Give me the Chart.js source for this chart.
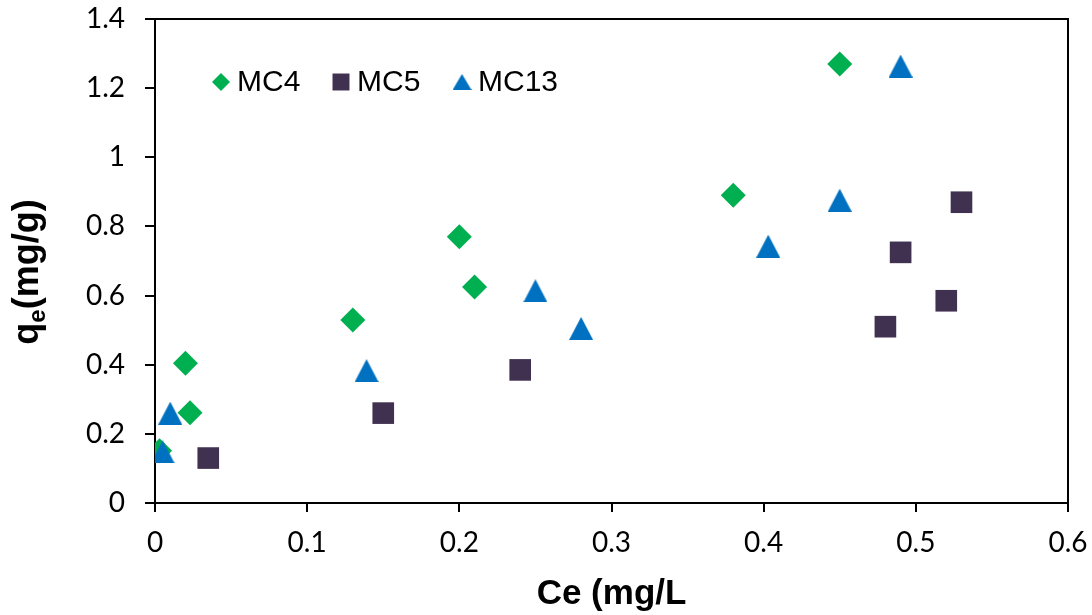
<!DOCTYPE html>
<html>
<head>
<meta charset="utf-8">
<title>qe vs Ce</title>
<script src="https://cdn.jsdelivr.net/npm/chart.js@4/dist/chart.umd.min.js"></script>
<style>
  html, body { margin: 0; padding: 0; background: #fff; }
  #isoChart { display: block; }
</style>
</head>
<body>
<canvas id="isoChart" width="1092" height="615"></canvas>
<script>
// Equilibrium concentration (Ce) and uptake (qe) for each adsorbent
const mc4Ce = [0.003, 0.020, 0.023, 0.130, 0.200, 0.210, 0.380, 0.450];
const mc4Qe = [0.151, 0.404, 0.261, 0.529, 0.770, 0.625, 0.890, 1.270];

const mc5Ce = [0.035, 0.150, 0.240, 0.480, 0.490, 0.520, 0.530];
const mc5Qe = [0.130, 0.260, 0.385, 0.510, 0.725, 0.585, 0.870];

const mc13Ce = [0.005, 0.010, 0.139, 0.250, 0.280, 0.403, 0.450, 0.490];
const mc13Qe = [0.148, 0.260, 0.383, 0.614, 0.505, 0.743, 0.876, 1.264];

const seriesNames = ["MC4", "MC5", "MC13"];
const xTicks = ["0", "0.1", "0.2", "0.3", "0.4", "0.5", "0.6"];
const yTicks = ["0", "0.2", "0.4", "0.6", "0.8", "1", "1.2", "1.4"];

const GREEN = "#00b050";
const PLUM = "#403151";
const BLUE = "#0070c0";

// triangle marker centred on its bounding box
function makeTriangle(w, h, color) {
  const c = document.createElement("canvas");
  c.width = w;
  c.height = h;
  const g = c.getContext("2d");
  g.fillStyle = color;
  g.beginPath();
  g.moveTo(w / 2, 0);
  g.lineTo(w, h);
  g.lineTo(0, h);
  g.closePath();
  g.fill();
  return c;
}
const triBig = makeTriangle(24, 23, BLUE);
const triSmall = makeTriangle(19, 16, BLUE);

const toPoints = (xs, ys) => xs.map((x, i) => ({ x: x, y: ys[i] }));

// black box round the plot area
const framePlugin = {
  id: "frame",
  beforeDatasetsDraw(chart) {
    const { ctx, chartArea: a } = chart;
    ctx.save();
    ctx.strokeStyle = "#000";
    ctx.lineWidth = 2;
    ctx.strokeRect(a.left, a.top, a.right - a.left, a.bottom - a.top);
    ctx.restore();
  }
};

// legend row inside the plot, top left
const innerLegend = {
  id: "innerLegend",
  afterDatasetsDraw(chart) {
    const { ctx, chartArea: a } = chart;
    const y = a.top + 63;
    const items = [
      { x: a.left + 66, style: "rectRot", radius: 9, color: GREEN },
      { x: a.left + 186, style: "rect", radius: 12, color: PLUM },
      { x: a.left + 307, style: triSmall, radius: 9, color: BLUE }
    ];
    ctx.save();
    ctx.font = "30px 'Liberation Sans', Arial, sans-serif";
    ctx.textBaseline = "middle";
    ctx.textAlign = "left";
    items.forEach((it, i) => {
      ctx.fillStyle = it.color;
      Chart.helpers.drawPoint(ctx, { pointStyle: it.style, radius: it.radius, rotation: 0, borderWidth: 0 }, it.x, y);
      ctx.fillStyle = "#000";
      ctx.fillText(seriesNames[i], it.x + 16, y + 1);
    });
    ctx.restore();
  }
};

// rotated y title with subscript e
const yTitlePlugin = {
  id: "yTitle",
  afterDraw(chart) {
    const { ctx, chartArea: a } = chart;
    const big = "bold 36px 'Liberation Sans', Arial, sans-serif";
    const small = "bold 24px 'Liberation Sans', Arial, sans-serif";
    ctx.save();
    ctx.fillStyle = "#000";
    ctx.textBaseline = "alphabetic";
    ctx.textAlign = "left";
    ctx.font = big;
    const wq = ctx.measureText("q").width;
    const wRest = ctx.measureText("(mg/g)").width;
    ctx.font = small;
    const we = ctx.measureText("e").width;
    const total = wq + we + wRest;
    const cy = (a.top + a.bottom) / 2 + 11;
    ctx.translate(38, cy);
    ctx.rotate(-Math.PI / 2);
    let x = -total / 2;
    ctx.font = big;
    ctx.fillText("q", x, 0);
    x += wq;
    ctx.font = small;
    ctx.fillText("e", x, 7);
    x += we;
    ctx.font = big;
    ctx.fillText("(mg/g)", x, 0);
    ctx.restore();
  }
};

const tickFont = { family: "Lato, 'Open Sans', sans-serif", size: 28 };

new Chart(document.getElementById("isoChart"), {
  type: "scatter",
  data: {
    datasets: [
      {
        label: seriesNames[0],
        data: toPoints(mc4Ce, mc4Qe),
        pointStyle: "rectRot",
        pointRadius: 12.5,
        backgroundColor: GREEN,
        borderColor: GREEN,
        borderWidth: 0,
        order: 2
      },
      {
        label: seriesNames[1],
        data: toPoints(mc5Ce, mc5Qe),
        pointStyle: "rect",
        pointRadius: 15.3,
        backgroundColor: PLUM,
        borderColor: PLUM,
        borderWidth: 0,
        order: 1
      },
      {
        label: seriesNames[2],
        data: toPoints(mc13Ce, mc13Qe),
        pointStyle: triBig,
        pointRadius: 12,
        backgroundColor: BLUE,
        borderColor: BLUE,
        borderWidth: 0,
        order: 0
      }
    ]
  },
  options: {
    responsive: false,
    animation: false,
    events: [],
    layout: { padding: { left: 0, top: 19, right: 24, bottom: 0 } },
    plugins: {
      legend: { display: false },
      tooltip: { enabled: false }
    },
    scales: {
      x: {
        type: "linear",
        min: 0,
        max: 0.6,
        afterFit: s => {
          s.height = 112;
          s.paddingLeft = 0;
          s.paddingRight = 0;
        },
        afterBuildTicks: s => { s.ticks = xTicks.map(t => ({ value: Number(t) })); },
        ticks: {
          color: "#000",
          font: tickFont,
          padding: 14,
          maxRotation: 0,
          callback: (v, i) => xTicks[i]
        },
        grid: { drawOnChartArea: false, drawTicks: true, tickLength: 9, color: "#000", lineWidth: 2 },
        border: { display: true, color: "#000", width: 2 },
        title: {
          display: true,
          text: "Ce (mg/L",
          color: "#000",
          font: { family: "'Liberation Sans', Arial, sans-serif", size: 35, weight: "bold" },
          padding: { top: 0, bottom: 0 }
        }
      },
      y: {
        type: "linear",
        min: 0,
        max: 1.4,
        afterFit: s => {
          s.width = 155;
          s.paddingTop = 0;
          s.paddingBottom = 0;
        },
        afterBuildTicks: s => { s.ticks = yTicks.map(t => ({ value: Number(t) })); },
        ticks: {
          color: "#000",
          font: tickFont,
          padding: 20,
          callback: (v, i) => yTicks[i]
        },
        grid: { drawOnChartArea: false, drawTicks: true, tickLength: 10, color: "#000", lineWidth: 2 },
        border: { display: true, color: "#000", width: 2 }
      }
    }
  },
  plugins: [framePlugin, innerLegend, yTitlePlugin]
});
</script>
</body>
</html>
